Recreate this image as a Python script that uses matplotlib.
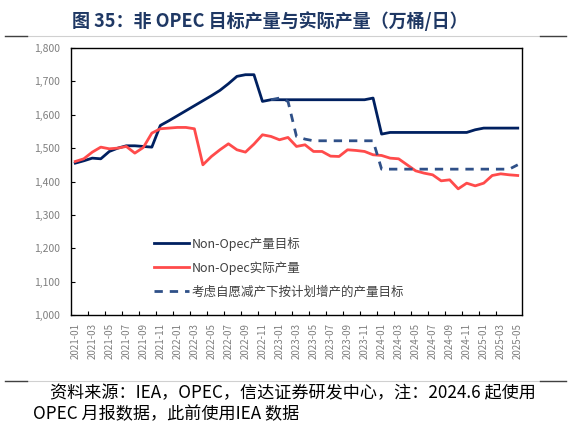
import numpy as np
import pandas as pd
import matplotlib
matplotlib.use("Agg")
import matplotlib.pyplot as plt
from matplotlib.ticker import FixedLocator, StrMethodFormatter
from matplotlib.lines import Line2D

plt.rcParams['font.family'] = ['Noto Sans CJK SC', 'DejaVu Sans']

############################
# DATA (万桶/日)
############################
months = pd.date_range("2021-01", "2025-05", freq="MS").strftime("%Y-%m").tolist()

target = [1455, 1462, 1470, 1468, 1490, 1500, 1507, 1507, 1505, 1503,
          1568, 1582, 1597, 1612, 1627, 1642, 1657, 1673, 1693, 1715,
          1720, 1720, 1640, 1645,
          1645, 1645, 1645, 1645, 1645, 1645, 1645, 1645, 1645, 1645, 1645,
          1650, 1542,
          1547, 1547, 1547, 1547, 1547, 1547, 1547, 1547, 1547, 1547,
          1555, 1560, 1560, 1560, 1560, 1560]

plan = [np.nan] * 23 + [1645, 1650, 1640, 1535, 1527,
                        1522, 1522, 1522, 1522, 1522, 1522, 1522, 1522,
                        1437, 1437, 1437, 1437, 1437, 1437, 1437, 1437,
                        1437, 1437, 1437, 1437, 1437, 1437, 1437, 1437,
                        1450]

actual = [1460, 1468, 1488, 1503, 1498, 1500, 1505, 1485, 1502, 1545,
          1558, 1560, 1562, 1562, 1558, 1450, 1475, 1495, 1513, 1495,
          1488, 1512, 1540, 1535, 1525, 1532, 1505, 1510, 1490, 1490,
          1476, 1475, 1495, 1493, 1490, 1480, 1478, 1470, 1468, 1450,
          1432, 1425, 1420, 1402, 1405, 1378, 1395, 1387, 1395, 1418,
          1423, 1420, 1418]

labels = ["Non-Opec产量目标", "Non-Opec实际产量", "考虑自愿减产下按计划增产的产量目标"]
title = "图 35：非 OPEC 目标产量与实际产量（万桶/日）"
note1 = "资料来源：IEA，OPEC，信达证券研发中心，注：2024.6 起使用"
note2 = "OPEC 月报数据，此前使用IEA 数据"

NAVY = "#002060"
DASH = "#2F5088"
RED = "#FF4B4B"
GRAY = "#7F7F7F"

############################
# PLOT
############################
fig = plt.figure(figsize=(5.76, 4.23), dpi=100)
ax = fig.add_axes([71 / 576, 1 - 315 / 423, 451 / 576, 267 / 423])

x = np.arange(len(months))
ax.plot(x, target, color=NAVY, lw=2.0, label=labels[0])
ax.plot(x, actual, color=RED, lw=2.0, label=labels[1])
ax.plot(x, plan, color=DASH, lw=2.0, dashes=(3, 2.5), label=labels[2])

ax.set_xlim(-0.5, len(months) - 0.5)
ax.set_ylim(1000, 1800)
ax.yaxis.set_major_locator(FixedLocator(np.arange(1000, 1801, 100)))
ax.yaxis.set_major_formatter(StrMethodFormatter("{x:,.0f}"))

ax.set_xticks(x[::2])
ax.set_xticklabels(months[::2], rotation=90)
ax.set_xticks(np.arange(-0.5, len(months), 2)[1:-1], minor=True)
ax.tick_params(axis="x", which="major", length=0, pad=6, labelsize=7, labelcolor=GRAY)
ax.tick_params(axis="x", which="minor", direction="in", length=3, width=0.8)
ax.tick_params(axis="y", direction="in", length=3, width=0.8, pad=8,
               labelsize=7.5, labelcolor=GRAY)
for sp in ax.spines.values():
    sp.set_linewidth(1.0)
    sp.set_color("black")

leg = ax.legend(loc="lower left", bbox_to_anchor=(0.16, 0.02), frameon=False,
                fontsize=9, handlelength=2.8, handletextpad=0.15, labelspacing=0.85)
for t in leg.get_texts():
    t.set_color("#404040")

# title and rules
fig.text(270 / 576, 1 - 21 / 423, title, ha="center", va="center",
         fontsize=13, fontweight="bold", color="#1F3864")
for yy in (36, 381):
    fig.add_artist(Line2D([5 / 576, 566 / 576], [1 - yy / 423] * 2, color="#D0D0D0", lw=0.8))
    fig.add_artist(Line2D([5 / 576, 27 / 576], [1 - yy / 423] * 2, color="#404040", lw=1.0))
    fig.add_artist(Line2D([540 / 576, 566 / 576], [1 - yy / 423] * 2, color="#404040", lw=1.0))

fig.text(50 / 576, 1 - 393 / 423, note1, ha="left", va="center", fontsize=12.3,
         style="italic", color="black")
fig.text(33 / 576, 1 - 414 / 423, note2, ha="left", va="center", fontsize=12.3,
         style="italic", color="black")

fig.savefig("out.png", dpi=100)
